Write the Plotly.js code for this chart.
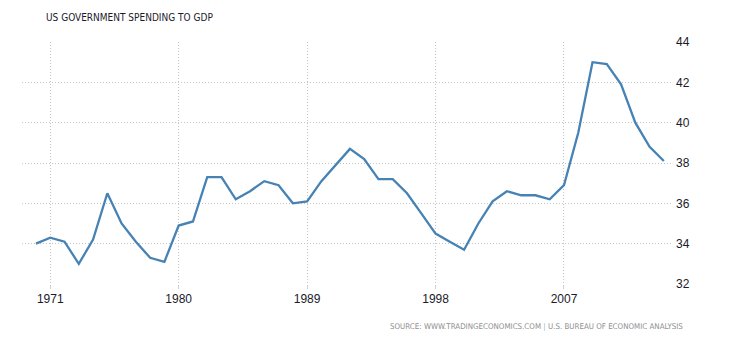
<!DOCTYPE html>
<html>
<head>
<meta charset="utf-8">
<script src="https://cdn.plot.ly/plotly-3.0.1.min.js"></script>
<style>
html,body{margin:0;padding:0;background:#fff;}
#chart{width:730px;height:340px;}
</style>
</head>
<body>
<div id="chart"></div>
<script>
const years = [1970,1971,1972,1973,1974,1975,1976,1977,1978,1979,
  1980,1981,1982,1983,1984,1985,1986,1987,1988,1989,
  1990,1991,1992,1993,1994,1995,1996,1997,1998,1999,
  2000,2001,2002,2003,2004,2005,2006,2007,2008,2009,
  2010,2011,2012,2013,2014];
const spending = [34.0,34.3,34.1,33.0,34.2,36.5,35.0,34.1,33.3,33.1,
  34.9,35.1,37.3,37.3,36.2,36.6,37.1,36.9,36.0,36.1,
  37.1,37.9,38.7,38.2,37.2,37.2,36.5,35.5,34.5,34.1,
  33.7,35.0,36.1,36.6,36.4,36.4,36.2,36.9,39.5,43.0,
  42.9,41.9,40.0,38.8,38.1];
const xTicks = [1971,1980,1989,1998,2007];
const yTicks = [32,34,36,38,40,42,44];
const titleText = "US GOVERNMENT SPENDING TO GDP";
const sourceLeft = "SOURCE: WWW.TRADINGECONOMICS.COM";
const sourceRight = "U.S. BUREAU OF ECONOMIC ANALYSIS";

const trace = {
  x: years, y: spending, type: 'scatter', mode: 'lines',
  line: {color: '#4682b4', width: 2.3},
  hoverinfo: 'skip'
};
const plotW = 730 - 22 - 58, plotH = 340 - 42 - 56;
const narrow = 'DejaVu Sans Condensed, Liberation Sans, Arial, sans-serif';
const layout = {
  width: 730, height: 340,
  margin: {l: 22, r: 58, t: 42, b: 56},
  paper_bgcolor: '#fff', plot_bgcolor: '#fff',
  showlegend: false,
  font: {family: 'Liberation Sans, Arial, sans-serif', color: '#222', size: 12},
  xaxis: {
    range: [1969.02, 2014.57],
    tickmode: 'array', tickvals: xTicks, ticktext: xTicks.map(String),
    showgrid: true, gridcolor: '#c4c4c4', griddash: '1px,2px', gridwidth: 1,
    zeroline: false, showline: false, ticks: 'outside', ticklen: 4, tickcolor: '#d0d0d0', tickwidth: 1,
    tickfont: {size: 12, color: '#1a1a2a'}
  },
  yaxis: {
    side: 'right', range: [32, 44],
    tickmode: 'array', tickvals: yTicks, ticktext: yTicks.map(String),
    showgrid: true, gridcolor: '#c4c4c4', griddash: '1px,2px', gridwidth: 1,
    zeroline: false, showline: false, ticks: '', ticklabelstandoff: 3,
    tickfont: {size: 12, color: '#1a1a2a'}
  },
  annotations: [
    {text: titleText, xref: 'paper', yref: 'paper',
     x: (44 - 22) / plotW, y: ((340 - 17) - 56) / plotH,
     xanchor: 'left', yanchor: 'middle', showarrow: false,
     font: {size: 10, color: '#1a1a2a', family: narrow}},
    {text: sourceLeft + ' <span style="color:#9ab4cc">|</span> ' + sourceRight,
     xref: 'paper', yref: 'paper',
     x: (685 - 22) / plotW, y: ((340 - 326) - 56) / plotH,
     xanchor: 'right', yanchor: 'middle', showarrow: false,
     font: {size: 7.9, color: '#8f8f8f', family: narrow}}
  ]
};
Plotly.newPlot('chart', [trace], layout, {displayModeBar: false, staticPlot: true});
</script>
</body>
</html>
